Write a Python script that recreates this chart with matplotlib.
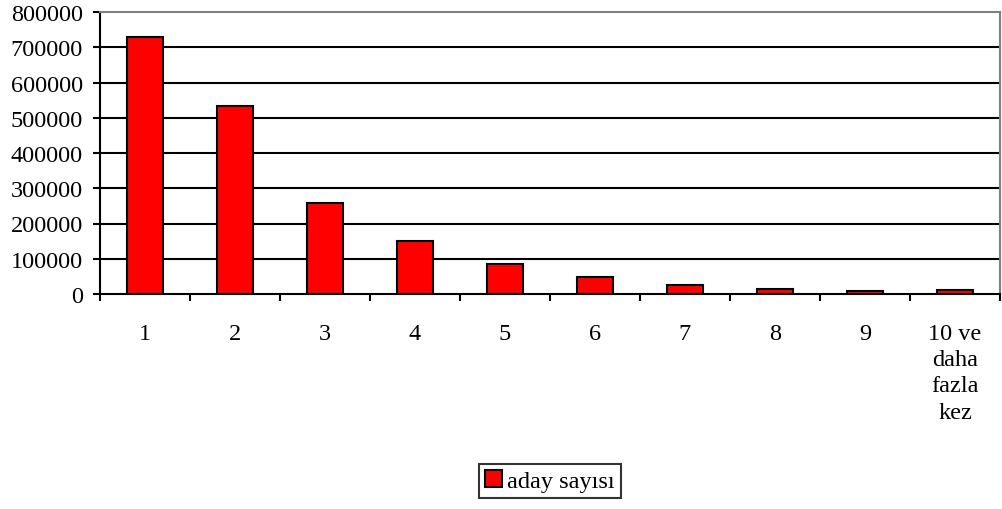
import numpy as np
import matplotlib.pyplot as plt
from matplotlib.patches import Patch

plt.rcParams['font.family'] = ['Liberation Serif', 'DejaVu Serif']

# data
categories = ["1", "2", "3", "4", "5", "6", "7", "8", "9", "10 ve\ndaha\nfazla\nkez"]
aday_sayisi = [729000, 533000, 258000, 150000, 85000, 48000, 26000, 15000, 8000, 11000]
y_ticks = [0, 100000, 200000, 300000, 400000, 500000, 600000, 700000, 800000]

fs = 17.5

fig = plt.figure(figsize=(10.03, 5.10), dpi=100)
ax = fig.add_axes([100 / 1003, 1 - 295 / 510, 900 / 1003, 282 / 510])

x = np.arange(len(categories))
ax.bar(x, aday_sayisi, width=0.41, color="#ff0000", edgecolor="black", linewidth=1.5, zorder=3)

ax.set_xlim(-0.5, len(categories) - 0.5)
ax.set_ylim(0, 800000)
ax.set_yticks(y_ticks)
ax.set_yticklabels([str(v) for v in y_ticks], fontsize=fs)
for v in y_ticks[1:-1]:
    ax.axhline(v, color="black", linewidth=1.5, zorder=1)

# category ticks sit between the bars
ax.set_xticks(np.arange(len(categories) + 1) - 0.5)
ax.set_xticklabels([])
ax.set_xticks(x, minor=True)
ax.set_xticklabels(categories, minor=True, fontsize=fs, linespacing=1.32, va="top")
ax.tick_params(axis="x", which="minor", length=0, pad=21)
ax.tick_params(axis="x", which="major", direction="out", length=5, width=1.5)
ax.tick_params(axis="y", direction="out", length=5, width=1.5, pad=7.5)

ax.spines["left"].set_linewidth(1.5)
ax.spines["bottom"].set_linewidth(1.5)
ax.spines["top"].set_color("#808080")
ax.spines["right"].set_color("#808080")
ax.spines["top"].set_linewidth(1.5)
ax.spines["right"].set_linewidth(1.5)

handle = Patch(facecolor="#ff0000", edgecolor="black", linewidth=1.5)
leg = fig.legend([handle], ["aday sayısı"], loc="center", bbox_to_anchor=(550 / 1003, 1 - 482 / 510),
                 fontsize=fs, frameon=True, fancybox=False, handlelength=0.7, handleheight=0.7,
                 handletextpad=0.2, borderpad=0.25, borderaxespad=0)
leg.get_frame().set_edgecolor("black")
leg.get_frame().set_linewidth(1.5)

plt.savefig("out.png", dpi=100)
